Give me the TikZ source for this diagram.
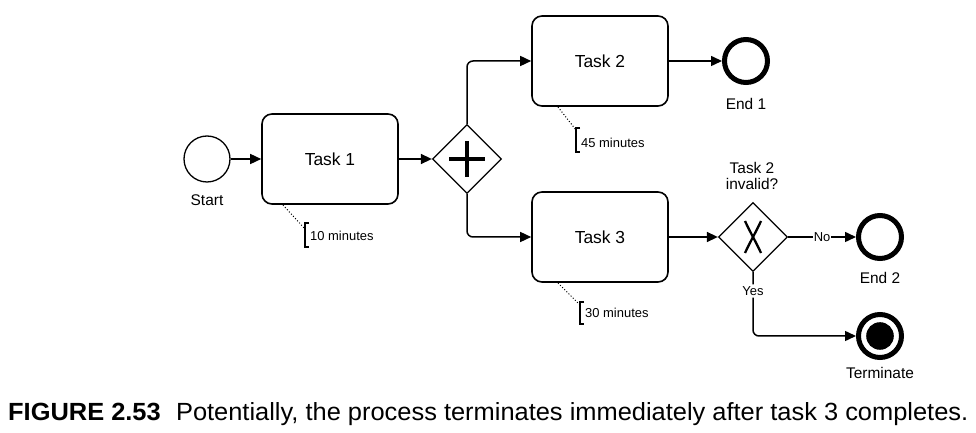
\documentclass[tikz,border=0pt]{standalone}
\usepackage{fontspec}
\setmainfont{Liberation Sans}
\usetikzlibrary{arrows.meta,shapes.geometric}
\begin{document}
\begin{tikzpicture}[x=1bp,y=-1bp,
  flow/.style={line width=1.5bp,-{Triangle[length=11bp,width=10bp]}},
  task/.style={draw,line width=1.6bp,rounded corners=10bp,minimum width=136bp,minimum height=90bp,font=\fontsize{17.5}{20}\selectfont,inner sep=0pt},
  startev/.style={draw,circle,line width=1.3bp,minimum size=46bp,inner sep=0pt},
  endev/.style={draw,circle,line width=5bp,minimum size=43bp,inner sep=0pt},
  gw/.style={draw,diamond,line width=1.3bp,minimum size=69bp,inner sep=0pt,aspect=1},
  lbl/.style={font=\fontsize{15.5}{18}\selectfont,inner sep=0pt},
  small/.style={font=\fontsize{13}{15}\selectfont,inner sep=0pt},
  annot/.style={font=\fontsize{13}{15}\selectfont,inner sep=0pt,anchor=west},
  assoc/.style={line width=1bp,dotted},
  brk/.style={line width=1.3bp}]
\useasboundingbox (0,0) rectangle (976,433);
% nodes
\node[startev] (start) at (207,159) {};
\node[lbl] (startl) at (207,200) {Start};
\node[task] (t1) at (330,159) {Task 1};
\node[gw] (g1) at (467,159) {};
\draw[line width=4bp] (449,159) -- (485,159) (467,141) -- (467,177);
\node[task] (t2) at (600,61) {Task 2};
\node[task] (t3) at (600,237) {Task 3};
\node[endev] (e1) at (746,61) {};
\node[lbl] (e1l) at (746,104) {End 1};
\node[gw] (g2) at (753,237) {};
\draw[line width=2.3bp] (745,221) .. controls (750,232) and (756,242) .. (761,253);
\draw[line width=2.3bp] (761,221) .. controls (756,232) and (750,242) .. (745,253);
\node[lbl,align=center] (g2l) at (752,176) {Task 2\\[-1bp]invalid?};
\node[endev] (e2) at (880,237) {};
\node[lbl] (e2l) at (880,278) {End 2};
\node[endev] (e3) at (880,336) {};
\fill (e3.center) circle (13.8bp);
\node[lbl] (e3l) at (880,373) {Terminate};
% annotations
\coordinate (a1s) at (283,205); \coordinate (a1e) at (305,229);
\draw[assoc] (a1s) -- (a1e);
\draw[brk] (309,223) -- (305,223) -- (305,247) -- (309,247);
\node[annot] (a1) at (310,236) {10 minutes};
\coordinate (a2s) at (558,107); \coordinate (a2e) at (576,130);
\draw[assoc] (a2s) -- (a2e);
\draw[brk] (580,128) -- (576,128) -- (576,152) -- (580,152);
\node[annot] (a2) at (581,143) {45 minutes};
\coordinate (a3s) at (558,283); \coordinate (a3e) at (580,305);
\draw[assoc] (a3s) -- (a3e);
\draw[brk] (584,302) -- (580,302) -- (580,324) -- (584,324);
\node[annot] (a3) at (585,313) {30 minutes};
% flows
\draw[flow] (start) -- (t1);
\draw[flow] (t1) -- (g1);
\draw[flow,rounded corners=6bp] (g1.north) |- (t2.west);
\draw[flow,rounded corners=6bp] (g1.south) |- (t3.west);
\draw[flow] (t2) -- (e1);
\draw[flow] (t3) -- (g2);
\draw[flow] (g2.east) -- node[small,fill=white,inner xsep=1bp] (no) {No} (e2);
\draw[flow,rounded corners=6bp] (g2.south) -- (753,291) node[small,fill=white,inner ysep=2bp] (yes) {Yes} |- (e3.west);
% caption
\node[anchor=base west,inner sep=0pt] (cap) at (8,421) {\resizebox{960bp}{18bp}{\fontsize{23}{26}\selectfont\textbf{FIGURE 2.53}\hspace{0.6em}Potentially, the process terminates immediately after task 3 completes.}};
\end{tikzpicture}
\end{document}
